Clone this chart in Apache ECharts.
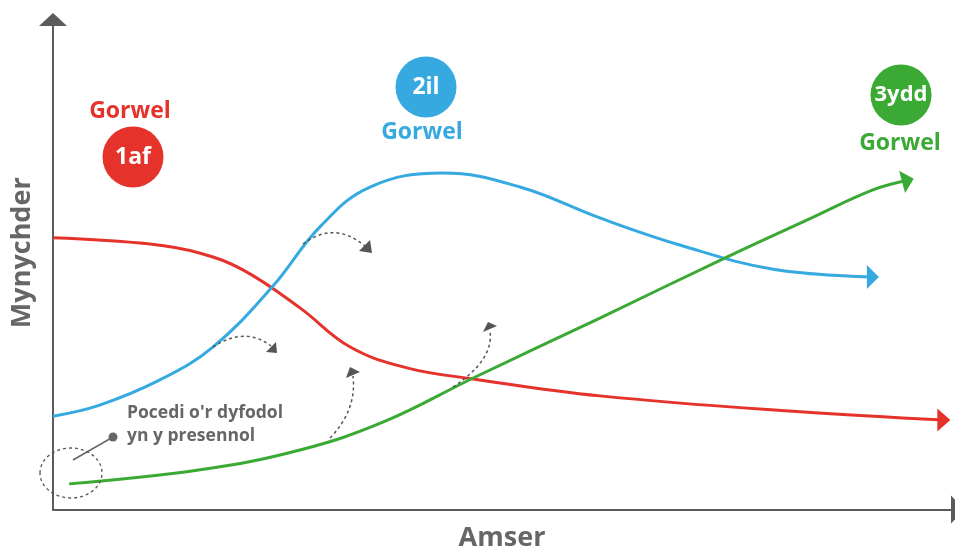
<!DOCTYPE html>
<html>
<head>
<meta charset="utf-8">
<title>Tri Gorwel</title>
<script src="https://cdn.jsdelivr.net/npm/echarts@6/dist/echarts.min.js"></script>
<style>
  html, body { margin: 0; padding: 0; background: #fff; }
  #chart { width: 955px; height: 549px; }
</style>
</head>
<body>
<div id="chart"></div>
<script>
// horizon 1 (red) - declining core business
const redX = [0, 10.8, 16.4, 21.2, 27.5, 33.1, 39.4, 46.8, 60.9, 83.2, 99.2];
const redY = [56.2, 54.9, 53.0, 49.5, 41.7, 33.6, 29.3, 27.0, 23.5, 20.2, 18.5];
// horizon 2 (blue) - emerging business
const blueX = [0, 5.2, 11.9, 17.8, 24.4, 29.7, 35.3, 43.4, 52.0, 60.9, 69.8, 80.2, 91.3];
const blueY = [19.3, 21.6, 26.8, 33.6, 46.0, 58.4, 66.7, 69.6, 66.7, 60.3, 54.7, 49.7, 48.1];
// horizon 3 (green) - future options
const greenX = [1.8, 16.4, 27.5, 36.8, 46.8, 60.9, 74.8, 84.0, 91.3, 95.2];
const greenY = [5.3, 8.2, 12.3, 18.1, 27.2, 39.6, 52.0, 59.9, 66.1, 68.1];

const RED = '#e5322b';
const BLUE = '#36a9e1';
const GREEN = '#3aaa35';
const GREY = '#666666';
const FONT = 'Open Sans';

const buildLine = (xs, ys, rot, size) => xs.map((x, i) => {
  if (i === xs.length - 1) {
    return { value: [x, ys[i]], symbol: 'triangle', symbolSize: size, symbolRotate: rot };
  }
  return { value: [x, ys[i]], symbol: 'none' };
});

const lineSeries = (name, color, data) => ({
  name: name,
  type: 'line',
  smooth: 0.4,
  showSymbol: true,
  showAllSymbol: true,
  data: data,
  lineStyle: { color: color, width: 3 },
  itemStyle: { color: color },
  silent: true,
  z: 3,
});

const dashArrow = (sx, sy, cx, cy, ex, ey, head) => [
  {
    type: 'bezierCurve',
    shape: { x1: sx, y1: sy, cpx1: cx, cpy1: cy, x2: ex, y2: ey },
    style: { stroke: '#555', lineWidth: 1.5, lineDash: [3, 3], fill: null },
    z: 10,
  },
  {
    type: 'polygon',
    shape: { points: head },
    style: { fill: '#555' },
    z: 10,
  },
];

const badge = (cx, cy, color) => ({
  type: 'circle',
  shape: { cx: cx, cy: cy, r: 30.5 },
  style: { fill: color },
  z: 10,
});

const txt = (x, y, text, color, size, align) => ({
  type: 'text',
  x: x,
  y: y,
  style: {
    text: text,
    fill: color,
    font: 'bold ' + size + 'px "' + FONT + '"',
    align: align || 'center',
    verticalAlign: 'middle',
  },
  z: 11,
});

const chart = echarts.init(document.getElementById('chart'));
chart.setOption({
  animation: false,
  backgroundColor: '#fff',
  grid: { left: 53, right: 4, top: 26, bottom: 39.5, outerBoundsMode: 'none', containLabel: false },
  xAxis: {
    type: 'value',
    min: 0,
    max: 100,
    name: 'Amser',
    nameLocation: 'middle',
    nameGap: 15,
    nameTextStyle: { color: GREY, fontSize: 27, fontWeight: 'bold', fontFamily: FONT },
    axisLine: {
      show: true,
      symbol: ['none', 'triangle'],
      symbolSize: [28, 13],
      symbolOffset: [0, 6.5],
      lineStyle: { color: '#5b5b5b', width: 2 },
    },
    axisTick: { show: false },
    axisLabel: { show: false },
    splitLine: { show: false },
  },
  yAxis: {
    type: 'value',
    min: 0,
    max: 100,
    name: 'Mynychder',
    nameLocation: 'middle',
    nameGap: 17,
    nameTextStyle: { color: GREY, fontSize: 27, fontWeight: 'bold', fontFamily: FONT, padding: [0, 0, 0, 30] },
    axisLine: {
      show: true,
      symbol: ['none', 'triangle'],
      symbolSize: [28, 13],
      symbolOffset: [0, 6.5],
      lineStyle: { color: '#5b5b5b', width: 2 },
    },
    axisTick: { show: false },
    axisLabel: { show: false },
    splitLine: { show: false },
  },
  series: [
    lineSeries('Gorwel 1af', RED, buildLine(redX, redY, -90, [23, 13])),
    lineSeries('Gorwel 2il', BLUE, buildLine(blueX, blueY, -90, [24, 12])),
    lineSeries('Gorwel 3ydd', GREEN, buildLine(greenX, greenY, -75, [23, 12])),
  ],
  graphic: [
    // horizon labels
    txt(130, 111, 'Gorwel', RED, 23),
    badge(133, 157, RED),
    txt(133, 157, '1af', '#fff', 23),
    badge(426, 87, BLUE),
    txt(426, 87, '2il', '#fff', 23),
    txt(422, 132, 'Gorwel', BLUE, 23),
    badge(901, 95, GREEN),
    txt(901, 95, '3ydd', '#fff', 22),
    txt(900, 143, 'Gorwel', GREEN, 23),
    // pockets of the future
    txt(127, 413, "Pocedi o'r dyfodol", GREY, 17.5, 'left'),
    txt(127, 436, 'yn y presennol', GREY, 17.5, 'left'),
    {
      type: 'line',
      shape: { x1: 113, y1: 437, x2: 73, y2: 460 },
      style: { stroke: GREY, lineWidth: 1.5 },
      z: 10,
    },
    {
      type: 'circle',
      shape: { cx: 113, cy: 437, r: 4.5 },
      style: { fill: GREY },
      z: 10,
    },
    {
      type: 'ellipse',
      shape: { cx: 71, cy: 473, rx: 31, ry: 25 },
      style: { stroke: '#555', lineWidth: 1.3, lineDash: [3, 3], fill: null },
      z: 10,
    },
    // dashed transition arrows
    ...dashArrow(303, 244, 335, 220, 366, 247, [[372, 253], [359, 251], [370, 240]]),
    ...dashArrow(213, 347, 245, 326, 271, 346, [[277, 353], [266, 352], [276, 342]]),
    ...dashArrow(330, 438, 357, 410, 353, 376, [[350, 367], [346, 378], [360, 372]]),
    ...dashArrow(453, 387, 494, 360, 490, 331, [[488, 322], [483, 332], [497, 326]]),
  ],
});
</script>
</body>
</html>
